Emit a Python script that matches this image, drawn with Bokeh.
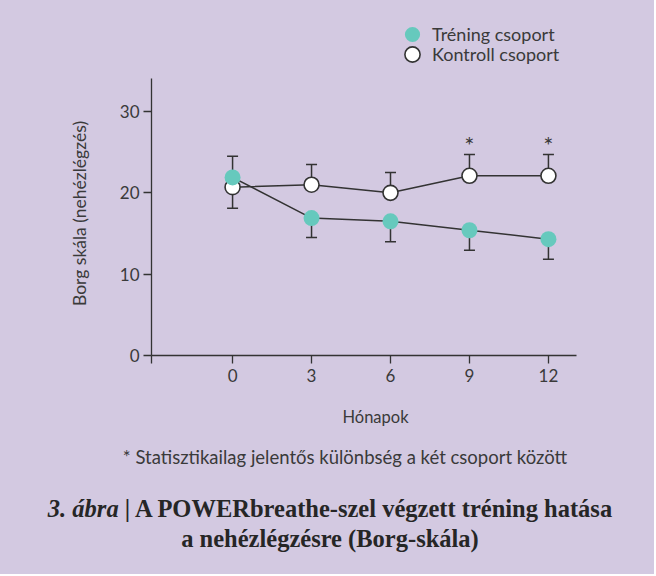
from bokeh.plotting import figure
from bokeh.layouts import column
from bokeh.models import FixedTicker, Legend, LegendItem, Div
from bokeh.core.properties import value
from bokeh.embed import file_html
from bokeh.resources import INLINE

# ---- data ----
months = [0, 3, 6, 9, 12]
y_ticks = [0, 10, 20, 30]
training_mean = [21.9, 16.9, 16.5, 15.4, 14.3]
training_bar_end = [24.5, 14.5, 14.0, 12.95, 11.85]
control_mean = [20.7, 21.0, 20.0, 22.1, 22.1]
control_bar_end = [18.1, 23.5, 22.5, 24.7, 24.7]
significant = [False, False, False, True, True]

BG = "#D3C9E1"
TEAL = "#66C9BD"
INK = "#333333"
TEXT = "#3A3A3A"
TITLE_INK = "#262626"
FONT = "Lato"
SERIF = "Liberation Serif"
W = 654
LEFT, RIGHT = 151, 55
HOST = {"background-color": BG}

# ---- legend strip (top): key renderers use the series data but lie outside this strip's view ----
top = figure(width=W, height=71, x_range=(0, 1), y_range=(0, 1),
             x_axis_location=None, y_axis_location=None, output_backend="svg",
             toolbar_location=None, min_border_left=LEFT, min_border_right=RIGHT,
             min_border_top=0, min_border_bottom=0, background_fill_color=BG,
             border_fill_color=BG, outline_line_color=None, styles=HOST)
top.grid.visible = False
key_train = top.scatter(x=months, y=training_mean, fill_color=TEAL, line_color=None)
key_ctrl = top.scatter(x=months, y=control_mean, fill_color="white", line_color=INK, line_width=1.6)
for label, rend, loc in (("Tréning csoport", key_train, (242, 18)),
                         ("Kontroll csoport", key_ctrl, (242, -2))):
    top.add_layout(Legend(items=[LegendItem(label=label, renderers=[rend])],
                          location=loc, glyph_width=38, glyph_height=38, spacing=0,
                          padding=0, margin=0, label_standoff=1, border_line_color=None,
                          background_fill_alpha=0, label_text_font=FONT,
                          label_text_font_size="18px", label_text_color=TEXT), "center")

# ---- main chart ----
X0 = -3.08
p = figure(width=W, height=364, x_range=(X0, 13.94), y_range=(0, 34.92),
           output_backend="svg", toolbar_location=None,
           min_border_left=LEFT, min_border_right=RIGHT, min_border_top=0, min_border_bottom=80,
           background_fill_color=BG, border_fill_color=BG, outline_line_color=None, styles=HOST)
p.grid.visible = False

xa = p.xaxis[0]
ya = p.yaxis[0]
xa.ticker = FixedTicker(ticks=[X0] + months)
xa.major_label_overrides = {X0: ""}
xa.bounds = (X0, 13.06)
ya.ticker = FixedTicker(ticks=y_ticks)
ya.bounds = (0, 34.06)
for ax in (xa, ya):
    ax.axis_line_color = INK
    ax.axis_line_width = 1.3
    ax.major_tick_line_color = INK
    ax.major_tick_line_width = 1.3
    ax.major_tick_in = 0
    ax.major_tick_out = 8
    ax.minor_tick_line_color = None
    ax.major_label_text_font = FONT
    ax.major_label_text_font_size = "17px"
    ax.major_label_text_color = TEXT
    ax.axis_label_text_font = FONT
    ax.axis_label_text_font_style = "normal"
    ax.axis_label_text_color = TEXT
xa.axis_label_text_font_size = "16.5px"
ya.axis_label_text_font_size = "17.5px"
xa.major_label_standoff = 5
ya.major_label_standoff = 4
xa.axis_label = "Hónapok"
ya.axis_label = "Borg skála (nehézlégzés)"
xa.axis_label_standoff = 22
ya.axis_label_standoff = 27

# error bars (drawn below markers)
p.segment(x0=months, y0=control_mean, x1=months, y1=control_bar_end, line_color=INK, line_width=1.5)
p.scatter(x=months, y=control_bar_end, marker="dash", size=11, line_color=INK, line_width=1.5)
p.segment(x0=months, y0=training_mean, x1=months, y1=training_bar_end, line_color=INK, line_width=1.5)
p.scatter(x=months, y=training_bar_end, marker="dash", size=11, line_color=INK, line_width=1.5)

p.line(x=months, y=control_mean, line_color=INK, line_width=1.5)
p.scatter(x=months, y=control_mean, size=15, fill_color="white", line_color=INK, line_width=1.6)
p.line(x=months, y=training_mean, line_color=INK, line_width=1.5)
p.scatter(x=months, y=training_mean, size=16, fill_color=TEAL, line_color=None)

sig_x = [m for m, s in zip(months, significant) if s]
sig_y = [e for e, s in zip(control_bar_end, significant) if s]
p.text(x=sig_x, y=sig_y, text=["*"] * len(sig_x), text_align="center",
       text_baseline="alphabetic", y_offset=-10, text_font=value(FONT),
       text_font_size="24px", text_color=TEXT)

# ---- footnote and caption ----
footnote = "* Statisztikailag jelentős különbség a két csoport között"
caption_num = "3. ábra"
caption_line1 = "| A POWERbreathe-szel végzett tréning hatása"
caption_line2 = "a nehézlégzésre (Borg-skála)"

html = (
    f'<div style="position:relative;width:{W}px;height:139px;background:{BG};overflow:hidden;">'
    f'<div style="position:absolute;top:11px;left:18px;width:{W}px;text-align:center;'
    f'font-family:{FONT};font-size:18.5px;line-height:22px;color:{TEXT};white-space:nowrap;">{footnote}</div>'
    f'<div style="position:absolute;top:59px;left:3px;width:{W}px;text-align:center;'
    f"font-family:'{SERIF}';font-weight:bold;font-size:24.5px;line-height:30px;color:{TITLE_INK};white-space:nowrap;\">"
    f'<i>{caption_num}</i> {caption_line1}<br>{caption_line2}</div>'
    f'</div>'
)
bottom = Div(text=html, width=W, height=139, margin=0, styles=HOST)

layout = column(top, p, bottom, spacing=0, styles=HOST)
open("out.html", "w").write(file_html(layout, INLINE))
